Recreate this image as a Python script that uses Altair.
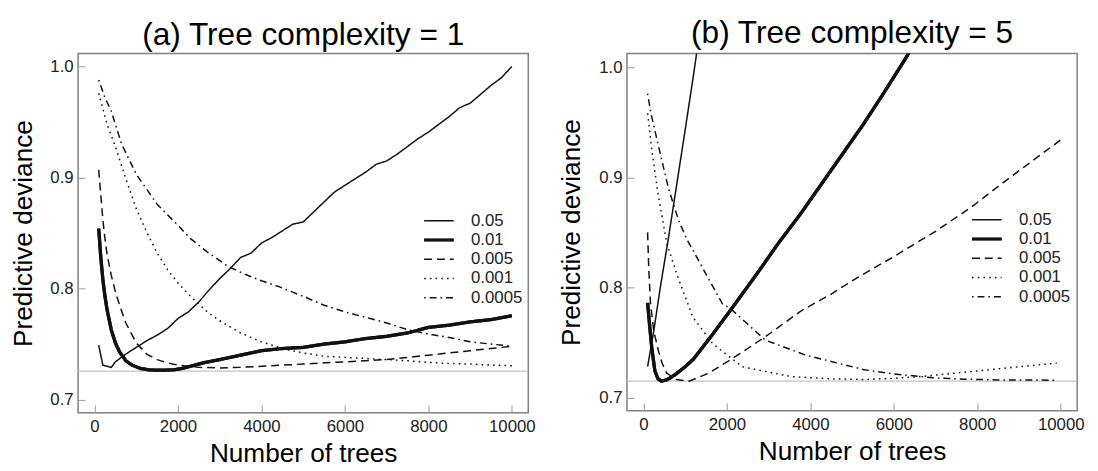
import altair as alt
import pandas as pd

FONT = "Liberation Sans"
RATES = ["0.05", "0.01", "0.005", "0.001", "0.0005"]
DASHES = [[1, 0], [1, 0], [8, 5], [1.6, 4.2], [1.6, 4, 7, 4]]

X_TICKS = [0, 2000, 4000, 6000, 8000, 10000]
Y_TICKS = [0.7, 0.8, 0.9, 1.0]

# ---------- (a) tree complexity = 1 ----------
A05_x = [100, 200, 300, 400, 500, 750, 1000, 1250, 1500, 1750, 2000, 2250, 2500, 2750, 3000,
         3250, 3500, 3750, 4000, 4250, 4500, 4750, 5000, 5250, 5500, 5750, 6000, 6250, 6500,
         6750, 7000, 7250, 7500, 7750, 8000, 8250, 8500, 8750, 9000, 9250, 9500, 9750, 10000]
A05_y = [0.749, 0.731, 0.730, 0.729, 0.734, 0.741, 0.747, 0.753, 0.758, 0.764, 0.773, 0.779,
         0.788, 0.799, 0.809, 0.818, 0.828, 0.832, 0.841, 0.846, 0.852, 0.858, 0.860, 0.869,
         0.878, 0.887, 0.893, 0.899, 0.905, 0.912, 0.915, 0.921, 0.928, 0.935, 0.941, 0.948,
         0.955, 0.963, 0.967, 0.975, 0.983, 0.990, 1.000]

A01_x = [100, 150, 200, 250, 300, 400, 500, 600, 750, 900, 1100, 1300, 1500, 1700, 1900, 2100,
         2300, 2600, 3000, 3500, 4000, 4500, 5000, 5500, 6000, 6500, 7000, 7500, 8000, 8500,
         9000, 9500, 10000]
A01_y = [0.854, 0.828, 0.808, 0.793, 0.781, 0.763, 0.751, 0.743, 0.735, 0.731, 0.728, 0.7268,
         0.7265, 0.7266, 0.7268, 0.728, 0.730, 0.733, 0.736, 0.740, 0.744, 0.746, 0.747, 0.750,
         0.752, 0.755, 0.757, 0.760, 0.765, 0.767, 0.770, 0.772, 0.7755]

A005_x = [100, 150, 200, 250, 300, 400, 500, 600, 750, 1000, 1250, 1500, 1750, 2000, 2500, 3000,
          3500, 4000, 5000, 6000, 7000, 8000, 9000, 10000]
A005_y = [0.907, 0.884, 0.862, 0.845, 0.831, 0.812, 0.797, 0.785, 0.769, 0.751, 0.741, 0.736,
          0.733, 0.731, 0.729, 0.7285, 0.729, 0.730, 0.732, 0.734, 0.736, 0.740, 0.744, 0.748]

A001_x = [100, 200, 300, 500, 750, 1000, 1250, 1500, 1750, 2000, 2300, 2700, 3000, 3500, 4000,
          4500, 5000, 5500, 6000, 6500, 7000, 7500, 8000, 8500, 9000, 9500, 10000]
A001_y = [0.976, 0.962, 0.948, 0.928, 0.899, 0.872, 0.851, 0.832, 0.817, 0.805, 0.793, 0.779,
          0.771, 0.760, 0.752, 0.746, 0.742, 0.739, 0.738, 0.737, 0.736, 0.735, 0.7335, 0.7325,
          0.732, 0.731, 0.7305]

A0005_x = [100, 250, 400, 650, 1000, 1500, 2000, 2300, 2700, 3200, 3600, 4000, 4400, 5000, 5500,
           6000, 6500, 7000, 7500, 8000, 8500, 9000, 9500, 10000]
A0005_y = [0.988, 0.972, 0.960, 0.930, 0.903, 0.876, 0.857, 0.845, 0.833, 0.820, 0.813, 0.807,
           0.802, 0.793, 0.785, 0.779, 0.774, 0.769, 0.763, 0.759, 0.756, 0.752, 0.750, 0.748]

A_MIN = 0.7256

# ---------- (b) tree complexity = 5 ----------
B05_x = [100, 250, 400, 600, 800, 1000, 1200, 1350]
B05_y = [0.728, 0.761, 0.799, 0.845, 0.894, 0.943, 0.993, 1.032]

B01_x = [100, 150, 200, 275, 350, 433, 550, 650, 800, 1000, 1200, 1650, 2100, 2750, 3250, 3750,
         4250, 4750, 5250, 5750, 6250, 6600]
B01_y = [0.786, 0.765, 0.745, 0.724, 0.717, 0.7149, 0.716, 0.718, 0.722, 0.728, 0.735, 0.757,
         0.780, 0.814, 0.841, 0.866, 0.893, 0.920, 0.947, 0.976, 1.006, 1.028]

B005_x = [100, 130, 170, 250, 355, 450, 552, 789, 1097, 1578, 2210, 2920, 3789, 4499, 5130, 6000,
          7000, 7824, 8790, 10000]
B005_y = [0.850, 0.815, 0.785, 0.760, 0.743, 0.731, 0.7224, 0.7164, 0.7149, 0.7224, 0.7373,
          0.7552, 0.779, 0.794, 0.809, 0.828, 0.851, 0.872, 0.900, 0.934]

B001_x = [100, 200, 350, 560, 800, 1184, 1658, 2368, 3552, 4500, 5288, 6000, 6708, 7500, 8288,
          9100, 9905]
B001_y = [0.958, 0.925, 0.885, 0.840, 0.812, 0.773, 0.749, 0.728, 0.719, 0.7170, 0.7164, 0.7175,
          0.7193, 0.7223, 0.7253, 0.7283, 0.7313]

B0005_x = [100, 180, 350, 600, 850, 1065, 1400, 1894, 2091, 2920, 3867, 5288, 6000, 6945, 7700,
           8500, 9866]
B0005_y = [0.976, 0.958, 0.930, 0.890, 0.860, 0.842, 0.819, 0.785, 0.7806, 0.7522, 0.7388,
           0.7253, 0.7215, 0.7179, 0.7167, 0.716, 0.7158]

B_MIN = 0.7149


def build(series):
    rows = []
    for rate, xs, ys in series:
        for x, y in zip(xs, ys):
            rows.append({"rate": rate, "trees": x, "dev": y})
    return pd.DataFrame(rows)


df_a = build([("0.05", A05_x, A05_y), ("0.01", A01_x, A01_y), ("0.005", A005_x, A005_y),
              ("0.001", A001_x, A001_y), ("0.0005", A0005_x, A0005_y)])
df_b = build([("0.05", B05_x, B05_y), ("0.01", B01_x, B01_y), ("0.005", B005_x, B005_y),
              ("0.001", B001_x, B001_y), ("0.0005", B0005_x, B0005_y)])

ROW = 19.5
THIN = 1.5
THICK = 3.3


def panel(df, title, ydomain, height, minline, title_offset, lx, ly):
    xenc = alt.X("trees:Q", title="Number of trees",
                 scale=alt.Scale(domain=[-394, 10394], nice=False, zero=False),
                 axis=alt.Axis(values=X_TICKS, format="d", grid=False, domain=False,
                               tickSize=8, offset=-8, tickColor="#9a9a9a", tickWidth=1,
                               labelFontSize=17, labelColor="#222", labelPadding=6,
                               labelFont=FONT, titleFont=FONT, titleFontSize=26.5,
                               titleFontWeight="normal", titleColor="#000", titlePadding=6))
    yenc = alt.Y("dev:Q", title="Predictive deviance",
                 scale=alt.Scale(domain=ydomain, nice=False, zero=False),
                 axis=alt.Axis(values=Y_TICKS, format=".1f", grid=False, domain=False,
                               tickSize=7, offset=-7, tickColor="#9a9a9a", tickWidth=1,
                               labelFontSize=17, labelColor="#222", labelPadding=5,
                               labelFont=FONT, titleFont=FONT, titleFontSize=26.5,
                               titleFontWeight="normal", titleColor="#000", titlePadding=13))
    common = dict(title=None, orient="none", legendX=lx, labelFontSize=17, labelFont=FONT,
                  symbolType="M-3,0H3", symbolSize=100, labelOffset=24, padding=0,
                  rowPadding=1.5)
    legend = alt.Legend(legendY=ly, labelColor="#222", symbolStrokeColor="#111",
                        symbolStrokeWidth=THIN, **common)
    legend_thick = alt.Legend(legendY=ly + ROW, labelColor="transparent",
                              symbolStrokeWidth=THICK, symbolOpacity=1, **common)
    rule = alt.Chart(pd.DataFrame({"dev": [minline]})).mark_rule(
        color="#c4c4c4", strokeWidth=1.3).encode(y=yenc)
    lines = alt.Chart(df).mark_line(clip=True, color="#111").encode(
        x=xenc, y=yenc,
        strokeDash=alt.StrokeDash("rate:N", scale=alt.Scale(domain=RATES, range=DASHES),
                                  legend=legend),
        strokeWidth=alt.condition("datum.rate === '0.01'", alt.value(THICK), alt.value(THIN)),
        order=alt.Order("trees:Q"),
    )
    thick = alt.Chart(df).transform_filter("datum.rate === '0.01'").mark_line(
        clip=True, strokeWidth=THICK).encode(
        x=xenc, y=yenc,
        stroke=alt.Stroke("rate:N", scale=alt.Scale(domain=["0.01"], range=["#111"]),
                          legend=legend_thick),
        order=alt.Order("trees:Q"),
    )
    return alt.layer(rule, lines, thick).resolve_scale(
        strokeDash="independent", stroke="independent").properties(
        width=456, height=height,
        title=alt.TitleParams(title, fontSize=32, font=FONT, fontWeight="normal",
                              offset=title_offset, anchor="middle", color="#000"))


left = panel(df_a, "(a) Tree complexity = 1", [0.6881, 1.0119], 364, A_MIN, 2, 357, 161)
right = panel(df_b, "(b) Tree complexity = 5", [0.688, 1.0125], 362, B_MIN, 4, 356, 160)

chart = alt.hconcat(left, right, spacing=22).resolve_scale(
    strokeDash="independent", stroke="independent").resolve_legend(
    strokeDash="independent", stroke="independent").properties(
    padding={"left": 1, "top": 5, "right": 5, "bottom": 0}
).configure(font=FONT).configure_view(stroke="#808080", strokeWidth=1.5)

chart.save("out.html", embed_options={"renderer": "svg", "actions": False})
